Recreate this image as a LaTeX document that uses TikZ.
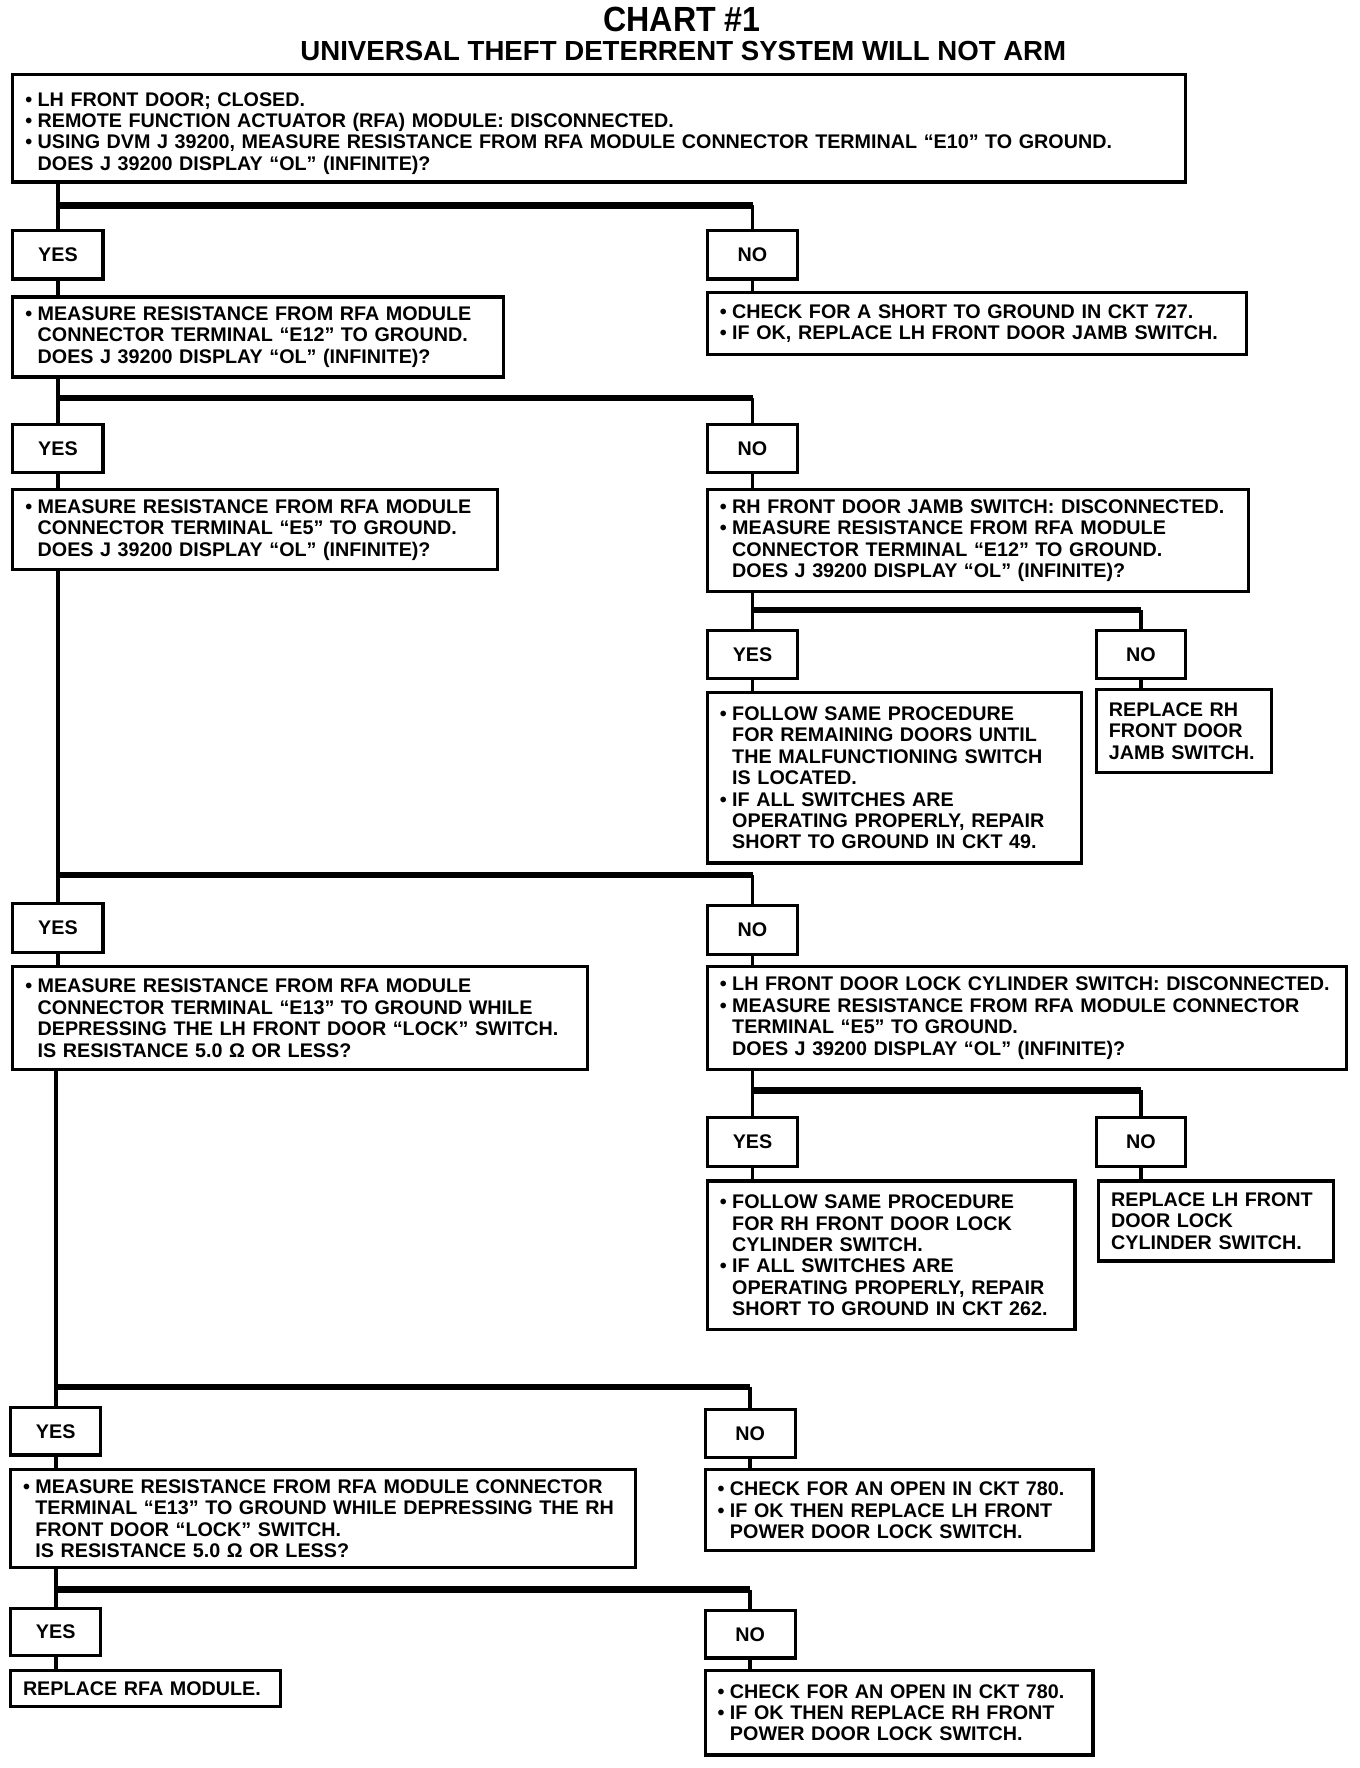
\documentclass[tikz,border=0pt]{standalone}
\usepackage{fontspec}
\setmainfont{Liberation Sans}
\newcommand\bul{\makebox[11pt][l]{•}}
\newcommand\ind{\hspace*{11pt}}
\begin{document}
\begin{tikzpicture}[x=1pt,y=-1pt,
  box/.style={draw, line width=2.8pt, anchor=north west, inner xsep=11pt, inner ysep=0pt, align=left, font=\bfseries\fontsize{17.5}{19}\selectfont},
  ynbox/.style={draw, line width=2.8pt, anchor=north west, inner sep=0pt, align=center, font=\bfseries\fontsize{17.5}{19}\selectfont},
  vl/.style={line width=3.4pt},
  hl/.style={line width=6pt},
]
\newcommand\bx[6]{%
  \pgfmathsetmacro\bw{#4-#2}\pgfmathsetmacro\bh{#5-#3}\pgfmathsetmacro\tw{#4-#2-22}%
  \node[box, minimum width=\bw pt, minimum height=\bh pt, text width=\tw pt] (#1) at (#2,#3) {#6};}
\newcommand\yn[6]{%
  \pgfmathsetmacro\bw{#4-#2}\pgfmathsetmacro\bh{#5-#3}%
  \node[ynbox, minimum width=\bw pt, minimum height=\bh pt] (#1) at (#2,#3) {#6};}
\useasboundingbox (0,0) rectangle (1206,1568);
\fill[white] (0,0) rectangle (1206,1568);
% titles
\node[font=\bfseries\fontsize{31}{31}\selectfont] (t1) at (605,17) {\scalebox{0.92}[1]{CHART \#1}};
\node[font=\bfseries\fontsize{24.5}{25}\selectfont] (t2) at (606,45) {UNIVERSAL THEFT DETERRENT SYSTEM WILL NOT ARM};
% boxes
\bx{bA}{10}{65}{1050}{160}{\rule{0pt}{21pt}\bul LH FRONT DOOR; CLOSED.\\
 \bul REMOTE FUNCTION ACTUATOR (RFA) MODULE: DISCONNECTED.\\
 \bul USING DVM J 39200, MEASURE RESISTANCE FROM RFA MODULE CONNECTOR TERMINAL “E10” TO GROUND.\\
 \ind DOES J 39200 DISPLAY “OL” (INFINITE)?}
\yn{Y1}{10}{203}{90}{246}{YES}
\yn{N1}{626}{203}{706}{246}{NO}
\bx{bB}{10}{262}{445}{333}{\bul MEASURE RESISTANCE FROM RFA MODULE\\
 \ind CONNECTOR TERMINAL “E12” TO GROUND.\\
 \ind DOES J 39200 DISPLAY “OL” (INFINITE)?}
\bx{bC}{626}{258}{1104}{313}{\bul CHECK FOR A SHORT TO GROUND IN CKT 727.\\
 \bul IF OK, REPLACE LH FRONT DOOR JAMB SWITCH.}
\yn{Y2}{10}{375}{90}{418}{YES}
\yn{N2}{626}{375}{706}{418}{NO}
\bx{bD}{10}{433}{440}{504}{\bul MEASURE RESISTANCE FROM RFA MODULE\\
 \ind CONNECTOR TERMINAL “E5” TO GROUND.\\
 \ind DOES J 39200 DISPLAY “OL” (INFINITE)?}
\bx{bE}{626}{433}{1106}{523}{\bul RH FRONT DOOR JAMB SWITCH: DISCONNECTED.\\
 \bul MEASURE RESISTANCE FROM RFA MODULE\\
 \ind CONNECTOR TERMINAL “E12” TO GROUND.\\
 \ind DOES J 39200 DISPLAY “OL” (INFINITE)?}
\yn{Y3}{626}{558}{706}{600}{YES}
\yn{N3}{971}{558}{1050}{600}{NO}
\bx{bF}{626}{613}{958}{764}{\bul FOLLOW SAME PROCEDURE\\
 \ind FOR REMAINING DOORS UNTIL\\
 \ind THE MALFUNCTIONING SWITCH\\
 \ind IS LOCATED.\\
 \bul IF ALL SWITCHES ARE\\
 \ind OPERATING PROPERLY, REPAIR\\
 \ind SHORT TO GROUND IN CKT 49.}
\bx{bG}{971}{610}{1126}{684}{REPLACE RH\\ FRONT DOOR\\ JAMB SWITCH.}
\yn{Y4}{10}{800}{90}{843}{YES}
\yn{N4}{626}{802}{706}{845}{NO}
\bx{bH}{10}{856}{520}{947}{\bul MEASURE RESISTANCE FROM RFA MODULE\\
 \ind CONNECTOR TERMINAL “E13” TO GROUND WHILE\\
 \ind DEPRESSING THE LH FRONT DOOR “LOCK” SWITCH.\\
 \ind IS RESISTANCE 5.0 Ω OR LESS?}
\bx{bI}{626}{856}{1193}{947}{\bul LH FRONT DOOR LOCK CYLINDER SWITCH: DISCONNECTED.\\
 \bul MEASURE RESISTANCE FROM RFA MODULE CONNECTOR\\
 \ind TERMINAL “E5” TO GROUND.\\
 \ind DOES J 39200 DISPLAY “OL” (INFINITE)?}
\yn{Y5}{626}{990}{706}{1033}{YES}
\yn{N5}{971}{990}{1050}{1033}{NO}
\bx{bJ}{626}{1046}{952}{1178}{\bul FOLLOW SAME PROCEDURE\\
 \ind FOR RH FRONT DOOR LOCK\\
 \ind CYLINDER SWITCH.\\
 \bul IF ALL SWITCHES ARE\\
 \ind OPERATING PROPERLY, REPAIR\\
 \ind SHORT TO GROUND IN CKT 262.}
\bx{bK}{973}{1046}{1181}{1117}{REPLACE LH FRONT\\ DOOR LOCK\\ CYLINDER SWITCH.}
\yn{Y6}{8}{1247}{88}{1289}{YES}
\yn{N6}{624}{1249}{704}{1291}{NO}
\bx{bL}{8}{1302}{562}{1389}{\bul MEASURE RESISTANCE FROM RFA MODULE CONNECTOR\\
 \ind TERMINAL “E13” TO GROUND WHILE DEPRESSING THE RH\\
 \ind FRONT DOOR “LOCK” SWITCH.\\
 \ind IS RESISTANCE 5.0 Ω OR LESS?}
\bx{bM}{624}{1302}{968}{1374}{\bul CHECK FOR AN OPEN IN CKT 780.\\
 \bul IF OK THEN REPLACE LH FRONT\\
 \ind POWER DOOR LOCK SWITCH.}
\yn{Y7}{8}{1425}{88}{1467}{YES}
\yn{N7}{624}{1427}{704}{1469}{NO}
\bx{bN}{8}{1480}{247}{1512}{REPLACE RFA MODULE.}
\bx{bO}{624}{1480}{968}{1555}{\bul CHECK FOR AN OPEN IN CKT 780.\\
 \bul IF OK THEN REPLACE RH FRONT\\
 \ind POWER DOOR LOCK SWITCH.}
% branch levels
\coordinate (r1) at (0,182);
\coordinate (r2) at (0,353);
\coordinate (r3) at (0,541);
\coordinate (r4) at (0,776);
\coordinate (r5) at (0,967);
\coordinate (r6) at (0,1230);
\coordinate (r7) at (0,1410);
% connectors
\newcommand\branch[4]{%
  \draw[vl] (#1.south -| #3.north) -- (#3.north);
  \draw[hl] (#2 -| #3.north) -- (#2 -| #4.north);
  \draw[vl] (#2 -| #4.north) -- (#4.north);}
\branch{bA}{r1}{Y1}{N1}
\branch{bB}{r2}{Y2}{N2}
\branch{bE}{r3}{Y3}{N3}
\branch{bD}{r4}{Y4}{N4}
\branch{bI}{r5}{Y5}{N5}
\branch{bH}{r6}{Y6}{N6}
\branch{bL}{r7}{Y7}{N7}
\draw[vl] (Y1.south) -- (bB.north -| Y1.south);
\draw[vl] (N1.south) -- (bC.north -| N1.south);
\draw[vl] (Y2.south) -- (bD.north -| Y2.south);
\draw[vl] (N2.south) -- (bE.north -| N2.south);
\draw[vl] (Y3.south) -- (bF.north -| Y3.south);
\draw[vl] (N3.south) -- (bG.north -| N3.south);
\draw[vl] (Y4.south) -- (bH.north -| Y4.south);
\draw[vl] (N4.south) -- (bI.north -| N4.south);
\draw[vl] (Y5.south) -- (bJ.north -| Y5.south);
\draw[vl] (N5.south) -- (bK.north -| N5.south);
\draw[vl] (Y6.south) -- (bL.north -| Y6.south);
\draw[vl] (N6.south) -- (bM.north -| N6.south);
\draw[vl] (Y7.south) -- (bN.north -| Y7.south);
\draw[vl] (N7.south) -- (bO.north -| N7.south);
\end{tikzpicture}
\end{document}
